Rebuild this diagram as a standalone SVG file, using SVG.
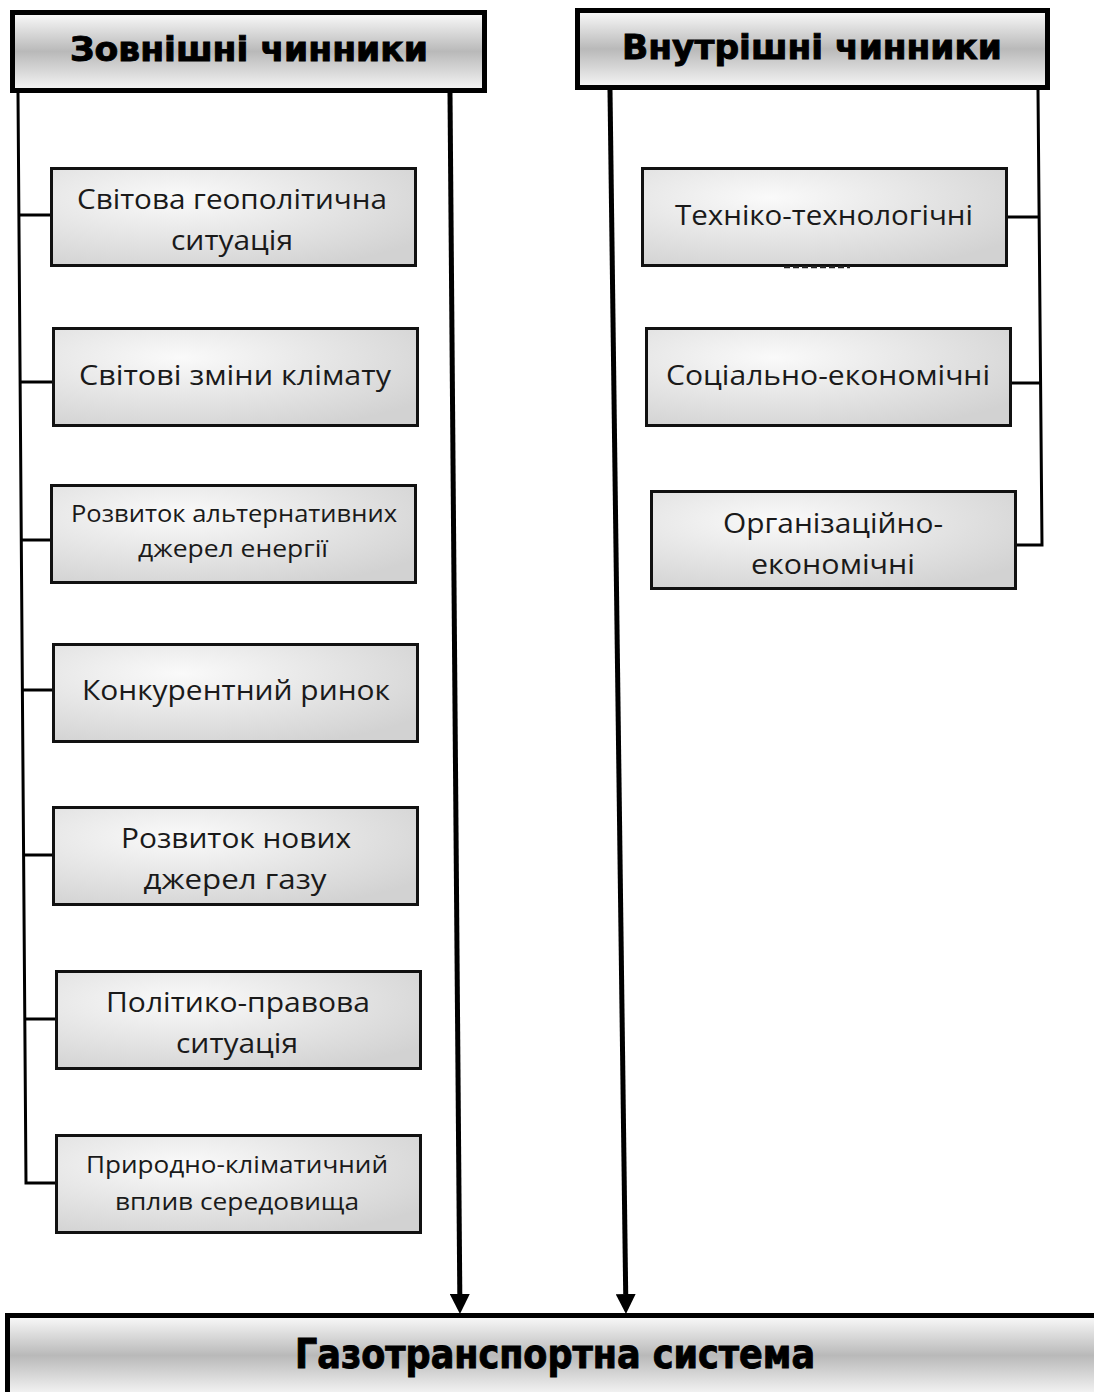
<svg xmlns="http://www.w3.org/2000/svg" width="1094" height="1392" viewBox="0 0 1094 1392">
<defs>
<linearGradient id="hdr" x1="0" y1="0" x2="0" y2="1">
<stop offset="0" stop-color="#fbfbfb"/>
<stop offset="0.5" stop-color="#b9b9b9"/>
<stop offset="1" stop-color="#f6f6f6"/>
</linearGradient>
<radialGradient id="box" cx="0.35" cy="0.3" r="0.8">
<stop offset="0" stop-color="#fafafa"/>
<stop offset="1" stop-color="#d2d2d2"/>
</radialGradient>
<marker id="ah" viewBox="0 0 20 20" refX="0" refY="10" markerWidth="20" markerHeight="20" markerUnits="userSpaceOnUse" orient="auto">
<path d="M0,0 L20,10 L0,20 z" fill="#000"/>
</marker>
</defs>
<style>
.hdr{fill:url(#hdr);stroke:#000;stroke-width:5}
.box{fill:url(#box);stroke:#111;stroke-width:3}
.ht{font-family:"DejaVu Sans",sans-serif;font-weight:bold;font-size:33px;fill:#000;stroke:#000;stroke-width:0.9;text-anchor:middle}
.bt{font-family:"DejaVu Sans Condensed","DejaVu Sans",sans-serif;font-weight:bold;font-size:40px;fill:#000;stroke:#000;stroke-width:0.9;text-anchor:middle}
.t{font-family:"Open Sans","Noto Sans",sans-serif;font-size:28px;fill:#1a1a1a;text-anchor:middle}
.s{font-family:"Open Sans","Noto Sans",sans-serif;font-size:24px;fill:#1a1a1a;text-anchor:middle}
.ln{fill:none;stroke:#000;stroke-width:3}
.ar{fill:none;stroke:#000;stroke-width:5;marker-end:url(#ah)}
</style>
<rect width="1094" height="1392" fill="#fff"/>
<g id="connectors">
<polyline class="ln" points="18,93 26,1183 55,1183"/>
<line class="ln" x1="19.6" y1="215" x2="50" y2="215"/>
<line class="ln" x1="20.8" y1="382" x2="52" y2="382"/>
<line class="ln" x1="22" y1="540" x2="50" y2="540"/>
<line class="ln" x1="23" y1="690" x2="52" y2="690"/>
<line class="ln" x1="24.2" y1="855" x2="52" y2="855"/>
<line class="ln" x1="25.2" y1="1019" x2="55" y2="1019"/>
<polyline class="ln" points="1038,90 1042,545 1016,545"/>
<line class="ln" x1="1007" y1="217" x2="1039.1" y2="217"/>
<line class="ln" x1="1011" y1="383" x2="1040.6" y2="383"/>
<line class="ar" x1="450" y1="93" x2="459.8" y2="1294"/>
<line class="ar" x1="610" y1="90" x2="625.7" y2="1294"/>
</g>
<g id="n-ext"><rect class="hdr" x="12.5" y="12.5" width="472" height="78"/><text class="ht" x="249" y="61" textLength="358" lengthAdjust="spacingAndGlyphs">Зовнішні чинники</text></g>
<g id="n-int"><rect class="hdr" x="577.5" y="10.5" width="470" height="77"/><text class="ht" x="812" y="59" textLength="380" lengthAdjust="spacingAndGlyphs">Внутрішні чинники</text></g>
<g id="n-gts"><rect class="hdr" x="7.5" y="1315.5" width="1100" height="80"/><text class="bt" x="555" y="1368" textLength="520" lengthAdjust="spacingAndGlyphs">Газотранспортна система</text></g>
<g id="n1"><rect class="box" x="51.5" y="168.5" width="364" height="97"/><text class="t" x="232" y="209" textLength="310" lengthAdjust="spacingAndGlyphs">Світова геополітична</text><text class="t" x="232" y="250" textLength="122" lengthAdjust="spacingAndGlyphs">ситуація</text></g>
<g id="n2"><rect class="box" x="53.5" y="328.5" width="364" height="97"/><text class="t" x="235" y="385" textLength="312" lengthAdjust="spacingAndGlyphs">Світові зміни клімату</text></g>
<g id="n3"><rect class="box" x="51.5" y="485.5" width="364" height="97"/><text class="s" x="234" y="522" textLength="326" lengthAdjust="spacingAndGlyphs">Розвиток альтернативних</text><text class="s" x="233" y="557" textLength="190" lengthAdjust="spacingAndGlyphs">джерел енергії</text></g>
<g id="n4"><rect class="box" x="53.5" y="644.5" width="364" height="97"/><text class="t" x="236" y="700" textLength="308" lengthAdjust="spacingAndGlyphs">Конкурентний ринок</text></g>
<g id="n5"><rect class="box" x="53.5" y="807.5" width="364" height="97"/><text class="t" x="236" y="848" textLength="230" lengthAdjust="spacingAndGlyphs">Розвиток нових</text><text class="t" x="235" y="889" textLength="183" lengthAdjust="spacingAndGlyphs">джерел газу</text></g>
<g id="n6"><rect class="box" x="56.5" y="971.5" width="364" height="97"/><text class="t" x="238" y="1012" textLength="264" lengthAdjust="spacingAndGlyphs">Політико-правова</text><text class="t" x="237" y="1053" textLength="122" lengthAdjust="spacingAndGlyphs">ситуація</text></g>
<g id="n7"><rect class="box" x="56.5" y="1135.5" width="364" height="97"/><text class="s" x="237" y="1173" textLength="302" lengthAdjust="spacingAndGlyphs">Природно-кліматичний</text><text class="s" x="237" y="1210" textLength="244" lengthAdjust="spacingAndGlyphs">вплив середовища</text></g>
<g id="r1"><rect class="box" x="642.5" y="168.5" width="364" height="97"/><text class="t" x="824" y="225" textLength="298" lengthAdjust="spacingAndGlyphs">Техніко-технологічні</text><line x1="784" y1="267" x2="850" y2="267" stroke="#222" stroke-width="2.5" stroke-dasharray="6,3"/></g>
<g id="r2"><rect class="box" x="646.5" y="328.5" width="364" height="97"/><text class="t" x="828" y="385" textLength="324" lengthAdjust="spacingAndGlyphs">Соціально-економічні</text></g>
<g id="r3"><rect class="box" x="651.5" y="491.5" width="364" height="97"/><text class="t" x="833" y="533" textLength="220" lengthAdjust="spacingAndGlyphs">Організаційно-</text><text class="t" x="833" y="574" textLength="164" lengthAdjust="spacingAndGlyphs">економічні</text></g>
</svg>
